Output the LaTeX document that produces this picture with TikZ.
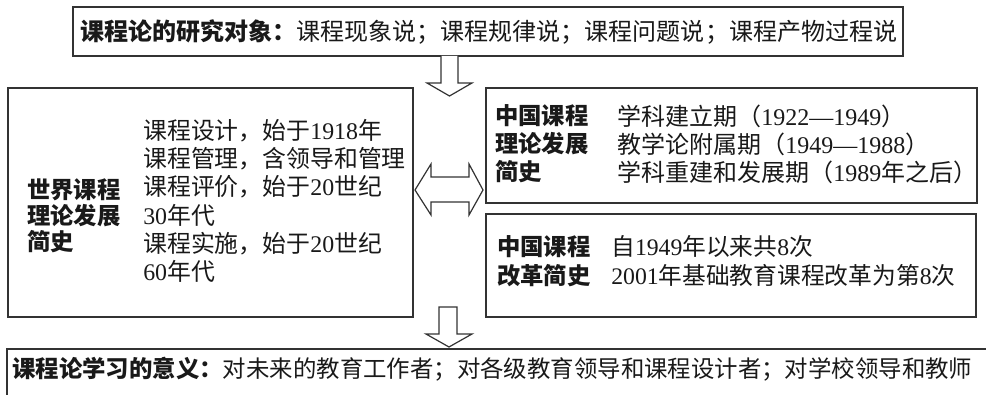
\documentclass[tikz,border=0pt]{standalone}
\usepackage{fontspec}
\setmainfont{Noto Sans CJK SC}
\newfontfamily\lsr{Liberation Serif}
\usetikzlibrary{fit}
\newcommand{\nm}[1]{{\lsr #1}}
\begin{document}
\begin{tikzpicture}[x=0.75pt,y=-0.75pt,
  boxline/.style={draw=black!80, line width=0.9pt, inner sep=0pt},
  hollow/.style={draw=black!80, line width=0.9pt, fill=white, line join=miter},
  txt/.style={anchor=west, inner sep=0pt, align=left, text=black!90},
  ]
\useasboundingbox (0,0) rectangle (986,395);
\clip (0,0) rectangle (986,395);
\fill[white] (0,0) rectangle (986,395);

% boxes
\node[boxline, fit={(73,7) (903,56)}] (topbox) {};
\node[boxline, fit={(8,88) (413,317)}] (leftbox) {};
\node[boxline, fit={(486,88) (977,203)}] (rtbox) {};
\node[boxline, fit={(486,214) (976,317)}] (rbbox) {};
\node[boxline, fit={(7,349) (1000,410)}] (botbox) {};

% hollow arrows
\draw[hollow] (441,56) -- (441,83) -- (427,83) -- (449.5,96) -- (472,83) -- (458,83) -- (458,56);
\draw[hollow] (415,190) -- (431,164) -- (431,177) -- (469,177) -- (469,164) -- (483,190)
  -- (469,215) -- (469,202) -- (431,202) -- (431,215) -- cycle;
\draw[hollow] (439,307) -- (457,307) -- (457,334) -- (472,334) -- (449,347) -- (426,334) -- (439,334) -- cycle;

% texts
\node[txt, font=\fontsize{18}{18}\selectfont] (toptext) at (80,32)
  {\resizebox{612.75pt}{!}{\textbf{课程论的研究对象：}课程现象说；课程规律说；课程问题说；课程产物过程说}};

\node[txt, font=\fontsize{17.5}{19.5}\selectfont\bfseries] (lefttitle) at (27,216)
  {世界课程\\理论发展\\简史};
\node[txt, font=\fontsize{17.9}{21.15}\selectfont] (leftlist) at (143,201)
  {课程设计，始于\nm{1918}年\\课程管理，含领导和管理\\课程评价，始于\nm{20}世纪\\\nm{30}年代\\课程实施，始于\nm{20}世纪\\\nm{60}年代};

\node[txt, font=\fontsize{17.5}{21}\selectfont\bfseries] (rttitle) at (495,144)
  {中国课程\\理论发展\\简史};
\node[txt, font=\fontsize{18}{21}\selectfont] (rtlist) at (617,144)
  {学科建立期（\nm{1922—1949}）\\教学论附属期（\nm{1949—1988}）\\学科重建和发展期（\nm{1989}年之后）};

\node[txt, font=\fontsize{17.5}{21.75}\selectfont\bfseries] (rbtitle) at (497,261)
  {中国课程\\改革简史};
\node[txt, font=\fontsize{17.8}{21.75}\selectfont] (rblist) at (611,261)
  {自\nm{1949}年以来共\nm{8}次\\\nm{2001}年基础教育课程改革为第\nm{8}次};

\node[txt, font=\fontsize{17.5}{17.5}\selectfont] (bottext) at (12,369)
  {\resizebox{720pt}{!}{\textbf{课程论学习的意义：}对未来的教育工作者；对各级教育领导和课程设计者；对学校领导和教师}};
\end{tikzpicture}
\end{document}
